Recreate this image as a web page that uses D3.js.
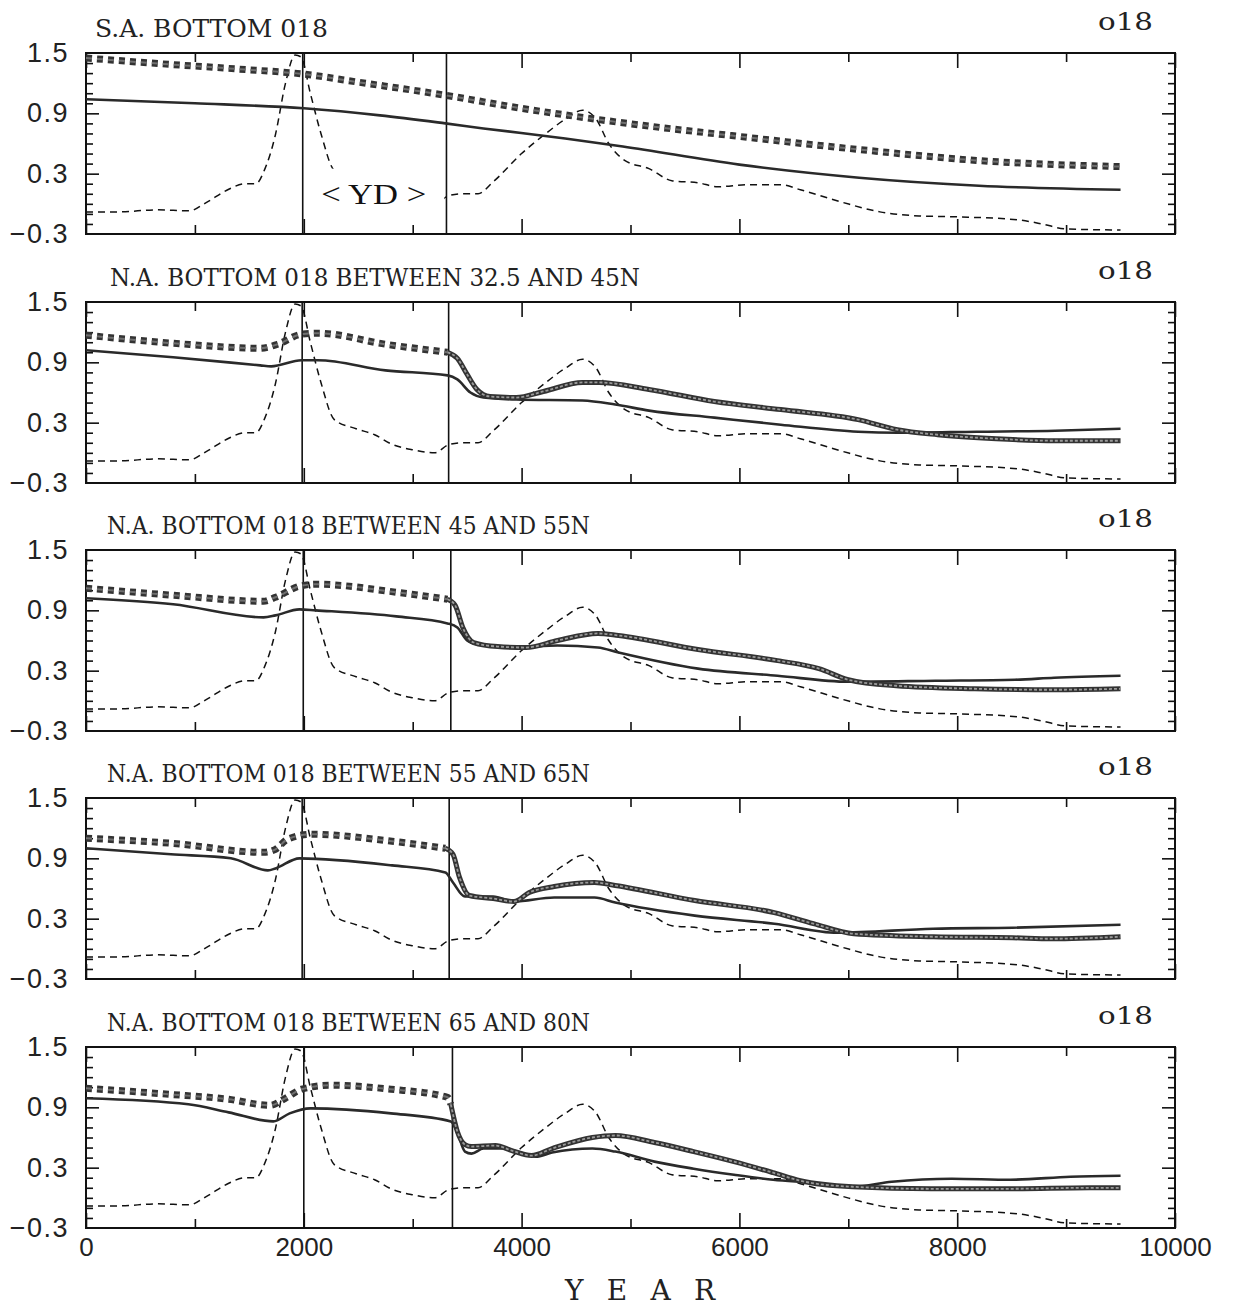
<!DOCTYPE html>
<html>
<head>
<meta charset="utf-8">
<script src="https://cdn.jsdelivr.net/npm/d3@7"></script>
<style>
  body { margin: 0; background: #fff; }
</style>
</head>
<body>
<svg id="chart_svg" width="1240" height="1310"></svg>
<script>
// thin dashed curve, the same in all five panels  [year, value]
let forcing = [[0,-0.08],[300,-0.08],[650,-0.06],[950,-0.07],[1100,0.01],[1320,0.15],[1460,0.2],[1560,0.2],[1640,0.34],[1740,0.69],[1830,1.19],[1920,1.48],[1975,1.46],[2060,1.1],[2160,0.69],[2280,0.33],[2480,0.24],[2650,0.18],[2800,0.09],[3000,0.03],[3200,0.0],[3330,0.08],[3450,0.1],[3600,0.1],[3740,0.22],[4000,0.5],[4200,0.68],[4400,0.84],[4560,0.93],[4680,0.85],[4800,0.6],[4950,0.43],[5170,0.35],[5380,0.23],[5620,0.21],[5800,0.17],[6080,0.19],[6380,0.19],[6560,0.14],[6930,0.02],[7290,-0.08],[7650,-0.12],[8020,-0.13],[8560,-0.16],[8780,-0.2],[9000,-0.25],[9500,-0.26]];

// S.A. bottom
let saThick = [[0,1.45],[600,1.40],[1400,1.34],[2000,1.29],[2500,1.21],[3300,1.08],[4000,0.95],[4900,0.81],[6000,0.67],[7100,0.54],[8200,0.43],[9500,0.37]];
let saSolid = [[0,1.04],[1000,1.0],[2000,0.95],[2700,0.88],[3300,0.80],[3650,0.75],[4400,0.65],[4930,0.57],[6000,0.39],[7100,0.26],[8200,0.18],[9500,0.14]];

// N.A. 32.5-45N
let na1Thick = [[0,1.17],[800,1.09],[1600,1.04],[1760,1.08],[1980,1.18],[2130,1.19],[2750,1.08],[3320,1.00],[3410,0.94],[3500,0.78],[3590,0.63],[3710,0.56],[3950,0.55],[4200,0.61],[4560,0.70],[4710,0.70],[5170,0.63],[5770,0.51],[6380,0.43],[7090,0.33],[7450,0.23],[7820,0.18],[8360,0.14],[8900,0.12],[9500,0.12]];
let na1Solid = [[0,1.02],[800,0.95],[1600,0.87],[1700,0.86],[1980,0.92],[2130,0.92],[2750,0.82],[3320,0.77],[3410,0.73],[3530,0.60],[3650,0.55],[3950,0.53],[4560,0.52],[4860,0.48],[5170,0.42],[5770,0.35],[6380,0.28],[7090,0.21],[7450,0.20],[8180,0.21],[8900,0.22],[9500,0.24]];

// N.A. 45-55N
let na2Thick = [[0,1.12],[800,1.05],[1630,0.99],[1740,1.03],[1960,1.14],[2110,1.16],[2850,1.08],[3320,1.01],[3390,0.95],[3460,0.73],[3560,0.58],[3780,0.54],[4040,0.53],[4330,0.60],[4700,0.67],[4890,0.65],[5620,0.51],[6350,0.40],[6730,0.32],[7000,0.21],[7440,0.15],[8160,0.12],[8890,0.11],[9500,0.12]];
let na2Solid = [[0,1.02],[800,0.96],[1630,0.83],[1740,0.85],[1960,0.91],[2110,0.90],[2850,0.84],[3320,0.77],[3410,0.73],[3500,0.60],[3600,0.56],[3960,0.53],[4330,0.55],[4700,0.53],[4890,0.48],[5620,0.32],[6350,0.25],[7000,0.19],[7800,0.20],[8530,0.21],[8890,0.23],[9500,0.25]];

// N.A. 55-65N
let na3Thick = [[0,1.10],[780,1.05],[1630,0.96],[1740,0.99],[1850,1.09],[2070,1.14],[2810,1.07],[3300,1.00],[3370,0.94],[3430,0.71],[3520,0.53],[3740,0.50],[3930,0.47],[4070,0.56],[4300,0.62],[4670,0.66],[4860,0.63],[5590,0.48],[6320,0.36],[6680,0.25],[7050,0.15],[7780,0.12],[8510,0.11],[8870,0.10],[9500,0.12]];
let na3Solid = [[0,1.00],[780,0.94],[1330,0.90],[1670,0.78],[1740,0.80],[1960,0.90],[2810,0.83],[3300,0.76],[3370,0.66],[3480,0.52],[3740,0.52],[3930,0.47],[4300,0.51],[4670,0.51],[4860,0.46],[5590,0.33],[6320,0.25],[6900,0.16],[7780,0.20],[8510,0.21],[9500,0.24]];

// N.A. 65-80N
let na4Thick = [[0,1.09],[760,1.03],[1310,0.98],[1690,0.92],[1830,0.99],[1980,1.08],[2240,1.12],[2800,1.08],[3320,1.00],[3350,0.93],[3410,0.66],[3480,0.53],[3540,0.51],[3760,0.52],[3910,0.47],[4090,0.42],[4280,0.49],[4650,0.60],[4860,0.62],[5220,0.55],[5580,0.46],[5950,0.36],[6310,0.25],[6560,0.17],[7040,0.11],[7760,0.09],[8490,0.09],[9220,0.10],[9500,0.10]];
let na4Solid = [[0,0.99],[940,0.93],[1310,0.85],[1720,0.76],[1870,0.84],[2060,0.89],[2800,0.84],[3350,0.76],[3410,0.65],[3480,0.46],[3540,0.44],[3650,0.49],[3830,0.49],[4020,0.44],[4130,0.41],[4280,0.45],[4650,0.49],[4860,0.46],[5220,0.36],[5580,0.29],[5950,0.23],[6310,0.18],[6670,0.15],[7040,0.11],[7400,0.16],[7950,0.19],[8490,0.18],[9040,0.21],[9500,0.22]];

let panelTitles = ["S.A. BOTTOM 018", "N.A. BOTTOM 018 BETWEEN 32.5 AND 45N", "N.A. BOTTOM 018 BETWEEN 45 AND 55N", "N.A. BOTTOM 018 BETWEEN 55 AND 65N", "N.A. BOTTOM 018 BETWEEN 65 AND 80N"];
let thickSeries = [saThick, na1Thick, na2Thick, na3Thick, na4Thick];
let solidSeries = [saSolid, na1Solid, na2Solid, na3Solid, na4Solid];
// Younger Dryas start / end lines
let ydStart = [1990, 1985, 1995, 1985, 2000];
let ydEnd = [3310, 3330, 3350, 3335, 3365];

let yearTicks = [0, 2000, 4000, 6000, 8000, 10000];
let yearMinorTicks = [1000, 3000, 5000, 7000, 9000];
let valueTicks = [1.5, 0.9, 0.3, -0.3];
let valueMinorTicks = [-0.2, -0.1, 0, 0.1, 0.2, 0.4, 0.5, 0.6, 0.7, 0.8, 1.0, 1.1, 1.2, 1.3, 1.4];

let svg, xScale, panelTop, panelHeight, left, right;

function chartMain() {
    svg = d3.select("#chart_svg");
    left = 86;
    right = 1175;
    panelTop = [53, 302, 550, 798, 1047];
    panelHeight = 181;

    xScale = d3.scaleLinear().domain([0, 10000]).range([left, right]);

    for (let i = 0; i < 5; i++) drawPanel(i);

    // x tick labels, bottom panel only
    let bottom = panelTop[4] + panelHeight;
    let xLab = svg.append("g")
        .attr("transform", `translate(0, ${bottom})`)
        .call(d3.axisBottom(xScale).tickValues(yearTicks).tickSize(0).tickPadding(10).tickFormat(d3.format("d")));
    xLab.select(".domain").remove();
    xLab.selectAll("text")
        .attr("font-family", "'Liberation Sans', Arial, sans-serif")
        .attr("font-size", 26)
        .attr("fill", "#222");

    svg.append("text")
        .attr("x", 640)
        .attr("y", 1300)
        .attr("text-anchor", "middle")
        .attr("font-family", "'DejaVu Serif', serif")
        .attr("font-size", 28)
        .attr("textLength", 150)
        .attr("lengthAdjust", "spacing")
        .attr("fill", "#222")
        .text("Y E A R");
}

function drawPanel(i) {
    let top = panelTop[i];
    let bottom = top + panelHeight;
    let yScale = d3.scaleLinear().domain([-0.3, 1.5]).range([bottom, top]);
    let g = svg.append("g");

    let line = d3.line()
        .x(d => xScale(d[0]))
        .y(d => yScale(d[1]))
        .curve(d3.curveMonotoneX);

    // title + species label
    let titleX = [95, 110, 107, 107, 107];
    let titleW = [233, 530, 483, 483, 483];
    g.append("text")
        .attr("x", titleX[i])
        .attr("y", top - 16)
        .attr("font-family", "'DejaVu Serif', serif")
        .attr("font-size", 25)
        .attr("textLength", titleW[i])
        .attr("lengthAdjust", "spacingAndGlyphs")
        .attr("fill", "#222")
        .text(panelTitles[i]);

    g.append("text")
        .attr("x", 1098)
        .attr("y", top - 23)
        .attr("font-family", "'DejaVu Serif', serif")
        .attr("font-size", 25)
        .attr("textLength", 55)
        .attr("lengthAdjust", "spacingAndGlyphs")
        .attr("fill", "#222")
        .text("o18");

    // ticks, all pointing inward
    let axes = [
        [d3.axisBottom(xScale).tickValues(yearTicks).tickSize(-15), bottom, 0],
        [d3.axisBottom(xScale).tickValues(yearMinorTicks).tickSize(-9), bottom, 0],
        [d3.axisTop(xScale).tickValues(yearTicks).tickSize(-15), top, 0],
        [d3.axisTop(xScale).tickValues(yearMinorTicks).tickSize(-9), top, 0],
        [d3.axisLeft(yScale).tickValues([0.9, 0.3]).tickSize(-13), 0, left],
        [d3.axisLeft(yScale).tickValues(valueMinorTicks).tickSize(-7), 0, left],
        [d3.axisRight(yScale).tickValues([0.9, 0.3]).tickSize(-13), 0, right],
        [d3.axisRight(yScale).tickValues(valueMinorTicks).tickSize(-7), 0, right]
    ];
    axes.forEach(a => {
        let ax = g.append("g")
            .attr("transform", `translate(${a[2]}, ${a[1]})`)
            .call(a[0].tickFormat(""));
        ax.select(".domain").remove();
        ax.selectAll("line").attr("stroke", "#111").attr("stroke-width", 1.6);
    });

    // y labels
    let yLab = g.append("g")
        .attr("transform", `translate(${left}, 0)`)
        .call(d3.axisLeft(yScale).tickValues(valueTicks).tickSize(0).tickPadding(17)
            .tickFormat(d => d < 0 ? "\u2212" + Math.abs(d).toFixed(1) : d.toFixed(1)));
    yLab.select(".domain").remove();
    yLab.selectAll("text")
        .attr("font-family", "'Liberation Sans', Arial, sans-serif")
        .attr("font-size", 27)
        .attr("letter-spacing", 1.5)
        .attr("fill", "#222");

    // frame
    g.append("rect")
        .attr("x", left)
        .attr("y", top)
        .attr("width", right - left)
        .attr("height", panelHeight)
        .attr("fill", "none")
        .attr("stroke", "#111")
        .attr("stroke-width", 2);

    // YD lines
    [ydStart[i], ydEnd[i]].forEach(yr => {
        g.append("line")
            .attr("x1", xScale(yr)).attr("x2", xScale(yr))
            .attr("y1", top).attr("y2", bottom)
            .attr("stroke", "#111")
            .attr("stroke-width", 1.6);
    });

    // thin dashed
    g.append("path")
        .datum(forcing)
        .attr("d", line)
        .attr("fill", "none")
        .attr("stroke", "#111")
        .attr("stroke-width", 1.5)
        .attr("stroke-dasharray", "7,5");

    // solid
    g.append("path")
        .datum(solidSeries[i])
        .attr("d", line)
        .attr("fill", "none")
        .attr("stroke", "#2a2a2a")
        .attr("stroke-width", 2.6);

    // thick series: square markers before YD end, hatched band after (not in S.A. panel)
    let data = thickSeries[i];
    let dashedPart = data, bandPart = [];
    if (i > 0) {
        let k = data.findIndex(d => d[0] > ydEnd[i]);
        dashedPart = data.slice(0, k);
        bandPart = data.slice(k - 1);
    }
    g.append("path")
        .datum(dashedPart)
        .attr("d", line)
        .attr("fill", "none")
        .attr("stroke", "#333")
        .attr("stroke-width", 7)
        .attr("stroke-dasharray", "6,5");
    g.append("path")
        .datum(dashedPart)
        .attr("d", line)
        .attr("fill", "none")
        .attr("stroke", "#707070")
        .attr("stroke-width", 2)
        .attr("stroke-dasharray", "6,5");
    if (bandPart.length) {
        g.append("path")
            .datum(bandPart)
            .attr("d", line)
            .attr("fill", "none")
            .attr("stroke", "#333")
            .attr("stroke-width", 5);
        g.append("path")
            .datum(bandPart)
            .attr("d", line)
            .attr("fill", "none")
            .attr("stroke", "#9a9a9a")
            .attr("stroke-width", 1.8)
            .attr("stroke-dasharray", "3,2");
    }

    if (i === 0) {
        g.append("rect")
            .attr("x", xScale(2200)).attr("y", yScale(0.35))
            .attr("width", xScale(3290) - xScale(2200)).attr("height", yScale(-0.05) - yScale(0.35))
            .attr("fill", "#fff");
        g.append("text")
            .attr("x", xScale(2160))
            .attr("y", yScale(0.0))
            .attr("font-family", "'Liberation Serif', serif")
            .attr("font-size", 29)
            .attr("textLength", 105)
            .attr("lengthAdjust", "spacingAndGlyphs")
            .attr("fill", "#111")
            .text("< YD >");
    }
}

chartMain();
</script>
</body>
</html>
